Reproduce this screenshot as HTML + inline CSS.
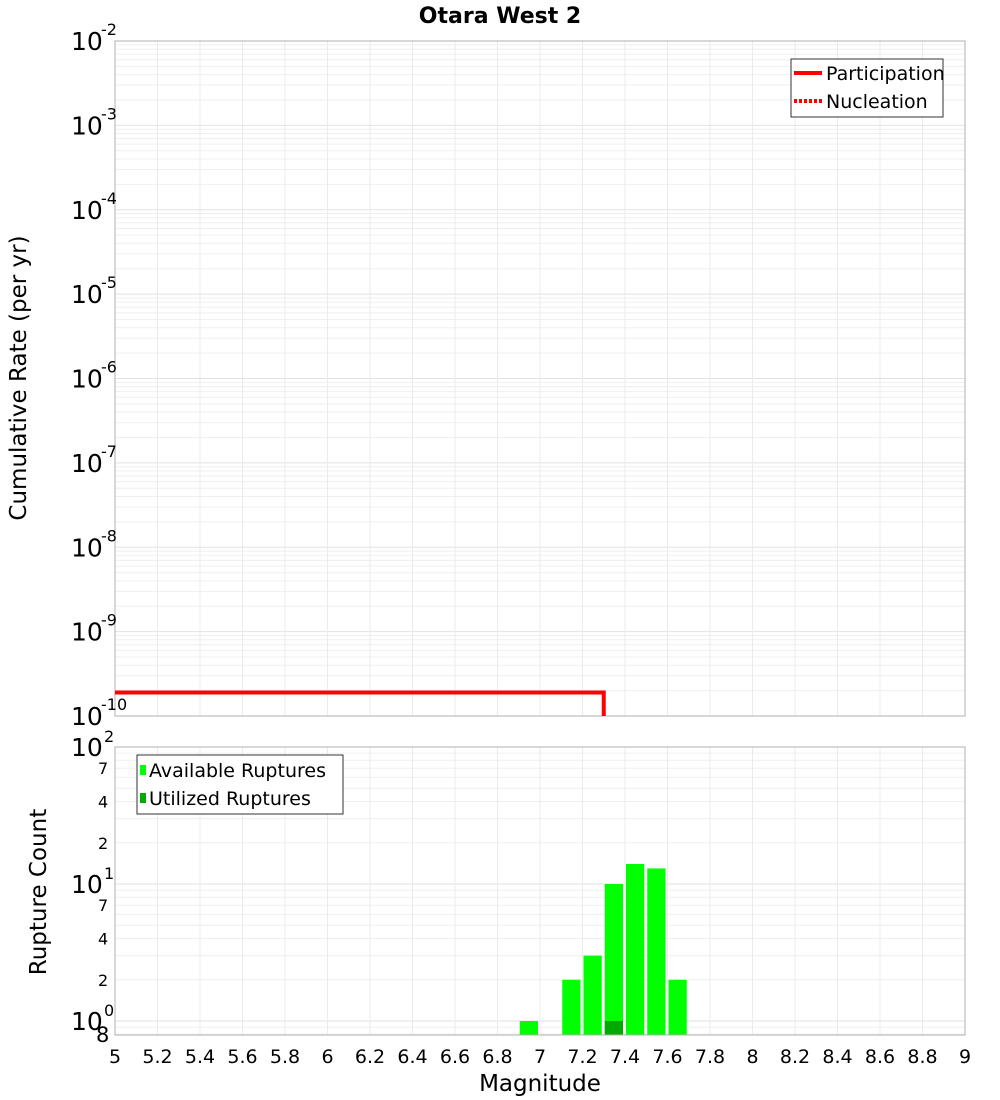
<!DOCTYPE html>
<html><head><meta charset="utf-8">
<style>
body{margin:0;background:#fff;}
svg{display:block;font-family:"DejaVu Sans","Liberation Sans",sans-serif;}
</style></head>
<body>
<svg id="c" width="1000" height="1100"></svg>
<script>
const xTicks=[5,5.2,5.4,5.6,5.8,6,6.2,6.4,6.6,6.8,7,7.2,7.4,7.6,7.8,8,8.2,8.4,8.6,8.8,9];
const topDecades=[-2,-3,-4,-5,-6,-7,-8,-9,-10];
const partMags=[5,7.3,7.3];
const partRates=[1.9e-10,1.9e-10,1e-11];
const binMags=[6.95,7.15,7.25,7.35,7.45,7.55,7.65];
const availCounts=[1,2,3,10,14,13,2];
const usedMags=[7.35];
const usedCounts=[1];
const botMinor=[2,4,7];

const NS="http://www.w3.org/2000/svg";
const svg=document.getElementById('c');
function el(t,a,txt){const e=document.createElementNS(NS,t);for(const k in a)e.setAttribute(k,a[k]);if(txt!==undefined)e.textContent=txt;svg.appendChild(e);return e;}
const X0=115,X1=965;
const x=m=>X0+(m-5)/4*(X1-X0);
const T0=41,T1=716;
const yT=v=>T0+(-2-Math.log10(v))/8*(T1-T0);
const B0=747,Bd=137;
const yB=v=>B0+(2-Math.log10(v))*Bd;
const B1=1035;

let t=el('text',{x:500,y:23,'text-anchor':'middle','font-size':22,'font-weight':'bold'},'Otara West 2');


for(let d=-10;d<-2;d++){for(let k=1;k<10;k++){const v=k*Math.pow(10,d);const y=yT(v);
 let g=el('line',{x1:X0,x2:X1,y1:y,y2:y,stroke:k==1?'#e2e2e2':'#efefef','stroke-width':1});
 }}
xTicks.forEach(m=>{let g=el('line',{x1:x(m),x2:x(m),y1:T0,y2:T1,stroke:'#ebebeb'});
 });
let r=el('rect',{x:X0,y:T0,width:X1-X0,height:T1-T0,fill:'none',stroke:'#b0b0b0'});

topDecades.forEach(d=>{const y=yT(Math.pow(10,d));
 let a=el('text',{x:71,y:y+9,'font-size':25},'10');
 let b=el('text',{x:101,y:y-6,'font-size':16},String(d));});
let yl=el('text',{transform:'translate(26,378) rotate(-90)','text-anchor':'middle','font-size':23},'Cumulative Rate (per yr)');


let pts=partMags.map((m,i)=>x(m)+','+Math.min(yT(partRates[i]),T1)).join(' ');
let pl=el('polyline',{points:pts,fill:'none',stroke:'#ff0000','stroke-width':4});


let lg=el('rect',{x:791,y:59,width:152,height:58,fill:'#fff',stroke:'#333'});

let l1=el('line',{x1:794,x2:822,y1:73,y2:73,stroke:'#f00','stroke-width':4});
let lt1=el('text',{x:826,y:80,'font-size':19},'Participation');
let l2=el('line',{x1:794,x2:822,y1:101,y2:101,stroke:'#f00','stroke-width':4,'stroke-dasharray':'3,2'});
let lt2=el('text',{x:826,y:108,'font-size':19},'Nucleation');

for(let d=-1;d<2;d++){for(let k=1;k<10;k++){const v=k*Math.pow(10,d);const y=yB(v);if(y>B1||y<B0)continue;
 let g=el('line',{x1:X0,x2:X1,y1:y,y2:y,stroke:k==1?'#e2e2e2':'#efefef'});
 }}
xTicks.forEach(m=>{let g=el('line',{x1:x(m),x2:x(m),y1:B0,y2:B1,stroke:'#ebebeb'});
 });

binMags.forEach((m,i)=>{const y=yB(availCounts[i]);
 let b=el('rect',{x:x(m-0.05)+1,y:y,width:x(0.1+5)-X0-3,height:B1-y,fill:'#00ff00'});
 });
usedMags.forEach((m,i)=>{const y=yB(usedCounts[i]);
 let b=el('rect',{x:x(m-0.05)+1,y:y,width:x(0.1+5)-X0-3,height:B1-y,fill:'#00aa00'});
 });

let r2=el('rect',{x:X0,y:B0,width:X1-X0,height:B1-B0,fill:'none',stroke:'#b0b0b0'});

[2,1,0].forEach(d=>{const y=yB(Math.pow(10,d));
 let a=el('text',{x:71,y:y+9,'font-size':25},'10');
 let b=el('text',{x:104,y:y-5,'font-size':16},String(d));});
[1,10].forEach(base=>botMinor.forEach(k=>{const y=yB(k*base);
 let a=el('text',{x:98,y:y+6,'font-size':16},String(k));}));
let e8=el('text',{x:96,y:1042,'font-size':21},'8');
let yl2=el('text',{transform:'translate(46,892) rotate(-90)','text-anchor':'middle','font-size':23},'Rupture Count');


xTicks.forEach(m=>{let a=el('text',{x:x(m),y:1063,'text-anchor':'middle','font-size':19},String(m));
 });
let xl=el('text',{x:540,y:1091,'text-anchor':'middle','font-size':23},'Magnitude');


let lg2=el('rect',{x:137,y:755,width:206,height:59,fill:'#fff',stroke:'#333'});

let s1=el('rect',{x:140,y:765,width:6,height:10,fill:'#00ff00'});
let s1t=el('text',{x:149,y:777,'font-size':19},'Available Ruptures');
let s2=el('rect',{x:140,y:793,width:6,height:10,fill:'#00aa00'});
let s2t=el('text',{x:149,y:805,'font-size':19},'Utilized Ruptures');
</script>
</body></html>
